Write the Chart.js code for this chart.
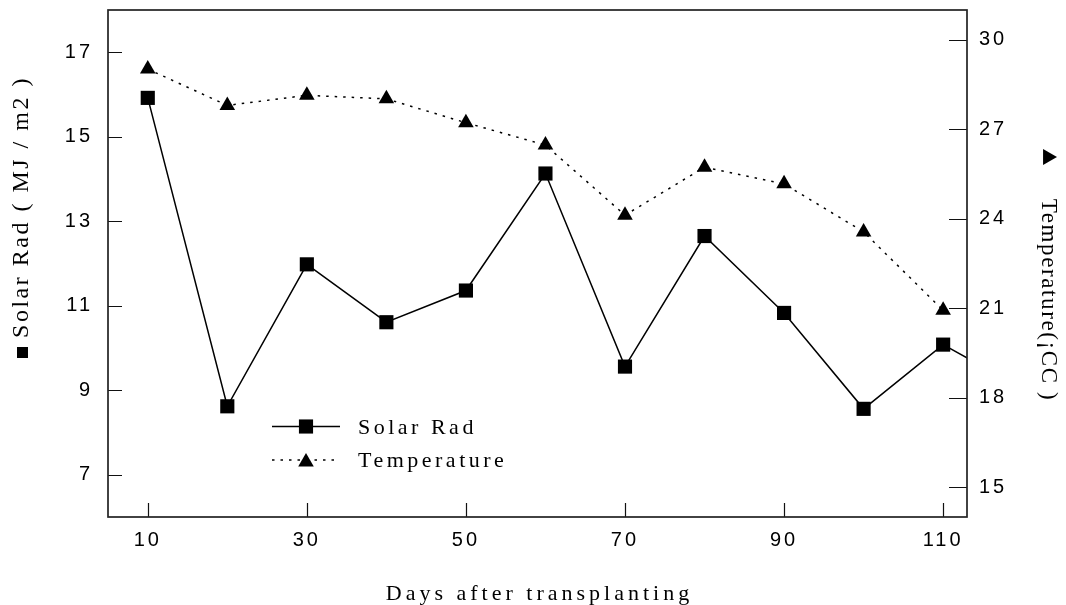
<!DOCTYPE html>
<html>
<head>
<meta charset="utf-8">
<script src="https://cdn.jsdelivr.net/npm/chart.js@4/dist/chart.umd.min.js"></script>
<style>
  body { margin: 0; background: #fff; }
  canvas { display: block; }
</style>
</head>
<body>
<canvas id="chart" width="1066" height="605"></canvas>
<script>
// values
const days = [10, 20, 30, 40, 50, 60, 70, 80, 90, 100, 110, 120];
const solarRad = [15.92, 8.62, 11.98, 10.61, 11.36, 14.13, 9.56, 12.65, 10.83, 8.56, 10.08, 9.04];
const temperature = [29.02, 27.80, 28.14, 28.02, 27.22, 26.47, 24.12, 25.73, 25.17, 23.56, 20.93];
const xTicks = [10, 30, 50, 70, 90, 110];
const solarTicks = [7, 9, 11, 13, 15, 17];
const tempTicks = [15, 18, 21, 24, 27, 30];

const SERIF = '"Liberation Serif", "Times New Roman", serif';
const SANS = '"Liberation Sans", Arial, sans-serif';

function toPoints(ys) {
    return ys.map(function (y, i) { return { x: days[i], y: y }; });
}

function fixedTicks(list) {
    return function (scale) {
        scale.ticks = list.map(function (v) { return { value: v }; });
    };
}

// fixed box sizes so the plot area lands where the figure has it
function fitTo(size) {
    return function (s) {
        if (s.isHorizontal()) s.height = size; else s.width = size;
        s.paddingTop = 0; s.paddingBottom = 0;
        s.paddingLeft = 0; s.paddingRight = 0;
    };
}

const tickFont = { family: SANS, size: 20 };

const spacing = {
    id: 'spacing',
    beforeDraw(chart) {
        chart.ctx.letterSpacing = '3px';
    }
};

// frame, inner ticks, legend and axis titles
const decorations = {
    id: 'decorations',
    afterDraw(chart) {
        const ctx = chart.ctx;
        const a = chart.chartArea;
        const sx = chart.scales.x, sy = chart.scales.y, sy1 = chart.scales.y1;
        ctx.save();

        ctx.strokeStyle = '#111';
        ctx.lineWidth = 1.2;
        ctx.beginPath();
        for (const v of xTicks) {
            const px = Math.round(sx.getPixelForValue(v)) + 0.5;
            ctx.moveTo(px, a.bottom);
            ctx.lineTo(px, a.bottom - 14);
        }
        for (const v of solarTicks) {
            const py = Math.round(sy.getPixelForValue(v)) + 0.5;
            ctx.moveTo(a.left, py);
            ctx.lineTo(a.left + 14, py);
        }
        for (const v of tempTicks) {
            const py = Math.round(sy1.getPixelForValue(v)) + 0.5;
            ctx.moveTo(a.right, py);
            ctx.lineTo(a.right - 18, py);
        }
        ctx.stroke();

        ctx.strokeStyle = '#222';
        ctx.lineWidth = 1.7;
        ctx.strokeRect(a.left, a.top, a.right - a.left, a.bottom - a.top);

        // legend
        ctx.fillStyle = '#000';
        ctx.strokeStyle = '#000';
        ctx.lineWidth = 1.5;
        ctx.beginPath();
        ctx.moveTo(272, 426.5);
        ctx.lineTo(340, 426.5);
        ctx.stroke();
        Chart.helpers.drawPoint(ctx, { pointStyle: 'rect', radius: 10, borderWidth: 0, rotation: 0 }, 306, 426.5);

        ctx.setLineDash([2.5, 6]);
        ctx.beginPath();
        ctx.moveTo(272, 460);
        ctx.lineTo(340, 460);
        ctx.stroke();
        ctx.setLineDash([]);
        Chart.helpers.drawPoint(ctx, { pointStyle: 'triangle', radius: 9, borderWidth: 0, rotation: 0 }, 306, 462);

        ctx.font = '22px ' + SERIF;
        ctx.textAlign = 'left';
        ctx.textBaseline = 'alphabetic';
        ctx.letterSpacing = '3.5px';
        ctx.fillText('Solar Rad', 358, 433.5);
        ctx.fillText('Temperature', 358, 467);

        // x title
        ctx.letterSpacing = '4px';
        ctx.textAlign = 'center';
        ctx.fillText('Days after transplanting', (a.left + a.right) / 2 + 2, 600);

        // left title
        ctx.font = '24px ' + SERIF;
        ctx.letterSpacing = '2.5px';
        ctx.textBaseline = 'middle';
        ctx.save();
        ctx.translate(22, 207);
        ctx.rotate(-Math.PI / 2);
        ctx.fillText('Solar Rad ( MJ / m2 )', 0, 0);
        ctx.restore();
        ctx.fillRect(17, 347, 11, 11);

        // right title
        ctx.font = '23px ' + SERIF;
        ctx.letterSpacing = '1.6px';
        ctx.save();
        ctx.translate(1048, 300);
        ctx.rotate(Math.PI / 2);
        ctx.fillText('Temperature(¡CC )', 0, 0);
        ctx.restore();
        Chart.helpers.drawPoint(ctx, { pointStyle: 'triangle', radius: 9.3, borderWidth: 0, rotation: 90 }, 1047.7, 157);

        ctx.restore();
    }
};

new Chart(document.getElementById('chart'), {
    type: 'line',
    data: {
        datasets: [
            {
                label: 'Solar Rad',
                data: toPoints(solarRad),
                yAxisID: 'y',
                borderColor: '#000',
                borderWidth: 1.5,
                pointStyle: 'rect',
                pointRadius: 10,
                pointBackgroundColor: '#000',
                pointBorderWidth: 0,
                clip: 0
            },
            {
                label: 'Temperature',
                data: toPoints(temperature),
                yAxisID: 'y1',
                borderColor: '#000',
                borderWidth: 1.5,
                borderDash: [2.5, 6],
                pointStyle: 'triangle',
                pointRadius: 9,
                pointBackgroundColor: '#000',
                pointBorderWidth: 0,
                clip: 0
            }
        ]
    },
    options: {
        responsive: false,
        animation: false,
        layout: { padding: { top: 10, left: 0, right: 0, bottom: 0 } },
        plugins: { legend: { display: false }, tooltip: { enabled: false } },
        scales: {
            x: {
                type: 'linear',
                min: 5,
                max: 113,
                afterBuildTicks: fixedTicks(xTicks),
                afterFit: fitTo(88),
                ticks: { font: tickFont, color: '#000', padding: 11, maxRotation: 0, autoSkip: false },
                grid: { display: false, drawTicks: false },
                border: { display: false }
            },
            y: {
                position: 'left',
                min: 6,
                max: 18,
                afterBuildTicks: fixedTicks(solarTicks),
                afterFit: fitTo(108),
                ticks: { font: tickFont, color: '#000', padding: 15 },
                grid: { display: false, drawTicks: false },
                border: { display: false }
            },
            y1: {
                position: 'right',
                min: 14,
                max: 31,
                afterBuildTicks: fixedTicks(tempTicks),
                afterFit: fitTo(99),
                ticks: { font: tickFont, color: '#000', padding: 12 },
                grid: { display: false, drawTicks: false },
                border: { display: false }
            }
        }
    },
    plugins: [spacing, decorations]
});
</script>
</body>
</html>
